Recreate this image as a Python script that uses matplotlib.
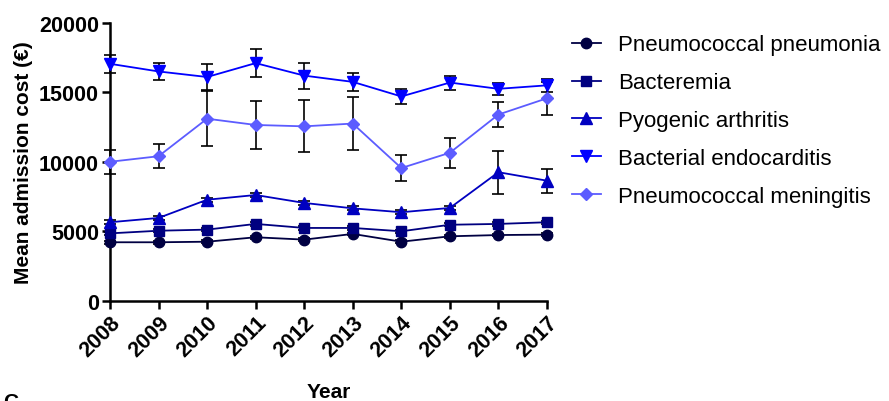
import matplotlib
matplotlib.use('Agg')
import matplotlib.pyplot as plt
import numpy as np

plt.rcParams['font.family'] = ['Liberation Sans', 'DejaVu Sans']

years = [2008, 2009, 2010, 2011, 2012, 2013, 2014, 2015, 2016, 2017]

# mean admission cost (EUR) and error bars
pneumonia = [4210, 4210, 4250, 4570, 4400, 4810, 4250, 4640, 4730, 4760]
pneumonia_err = [100, 100, 100, 100, 100, 100, 100, 100, 100, 100]
bacteremia = [4850, 5040, 5120, 5530, 5240, 5240, 5000, 5470, 5530, 5650]
bacteremia_err = [120, 120, 120, 120, 120, 120, 120, 120, 120, 120]
arthritis = [5650, 5960, 7270, 7610, 7040, 6650, 6370, 6680, 9250, 8640]
arthritis_err = [150, 150, 150, 150, 150, 150, 150, 150, 1550, 870]
endocarditis = [17050, 16500, 16100, 17100, 16200, 15750, 14700, 15700, 15250, 15500]
endocarditis_err = [650, 600, 950, 1000, 930, 670, 540, 500, 450, 450]
meningitis = [10000, 10400, 13100, 12650, 12550, 12750, 9550, 10650, 13400, 14570]
meningitis_err = [870, 850, 1970, 1720, 1870, 1880, 950, 1080, 880, 1180]

series = [
    ('Pneumococcal pneumonia', pneumonia, pneumonia_err, 'o', 7.5, '#000042'),
    ('Bacteremia', bacteremia, bacteremia_err, 's', 7.5, '#000080'),
    ('Pyogenic arthritis', arthritis, arthritis_err, '^', 8.5, '#0000C0'),
    ('Bacterial endocarditis', endocarditis, endocarditis_err, 'v', 8.5, '#0000FF'),
    ('Pneumococcal meningitis', meningitis, meningitis_err, 'D', 6.5, '#5C5CFF'),
]

fig = plt.figure(figsize=(8.89, 4.02), dpi=100)
ax = fig.add_axes([0.1237, 0.2493, 0.4916, 0.6915])

for name, y, err, m, ms, c in series:
    ax.errorbar(years, y, yerr=err, fmt='none', ecolor='black', elinewidth=1.2,
                capsize=4, capthick=1.2, zorder=2, clip_on=False)
    ax.plot(years, y, marker=m, markersize=ms, color=c, linewidth=1.3,
            label=name, zorder=3, clip_on=False)

ax.set_xlim(2008, 2017)
ax.set_ylim(0, 20000)
ax.set_xticks(years)
ax.set_xticklabels([str(v) for v in years], rotation=45, ha='right',
                   rotation_mode='anchor', fontweight='bold', fontsize=15.5)
ax.set_yticks([0, 5000, 10000, 15000, 20000])
ax.set_yticklabels(['0', '5000', '10000', '15000', '20000'], fontweight='bold', fontsize=15.5)

for s in ['top', 'right']:
    ax.spines[s].set_visible(False)
for s in ['left', 'bottom']:
    ax.spines[s].set_linewidth(1.8)
ax.tick_params(width=1.8, length=6, direction='out', pad=2)

ax.set_xlabel('Year', fontweight='bold', fontsize=15, labelpad=15)
ax.set_ylabel('Mean admission cost (€)', fontweight='bold', fontsize=15, labelpad=4)

ax.legend(loc='upper left', bbox_to_anchor=(1.011, 1.03), frameon=False,
          fontsize=16, handlelength=1.3, labelspacing=0.76, handletextpad=0.8)

fig.text(0.004, 0.022, 'C', fontsize=15, fontweight='bold', va='top')

fig.savefig('out.png', dpi=100)
